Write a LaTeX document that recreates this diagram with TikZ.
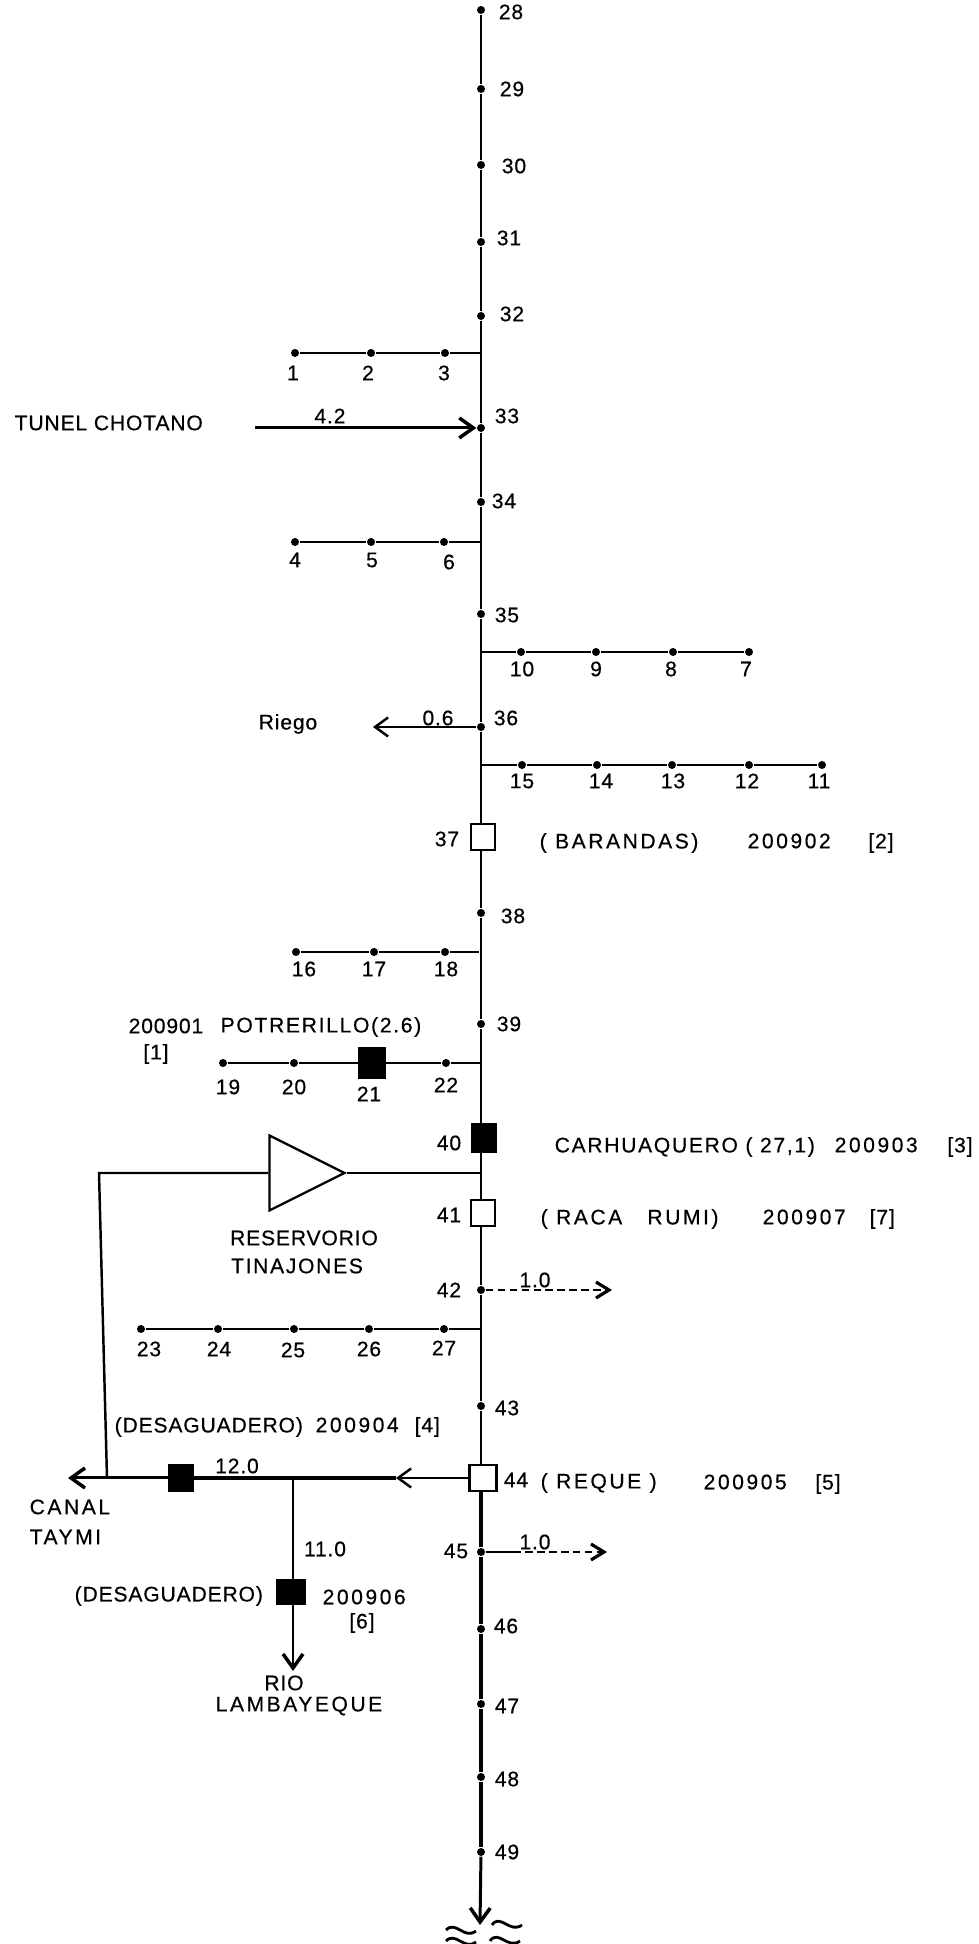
\documentclass[tikz,border=0pt]{standalone}
\usepackage{fontspec}
\setmainfont[LetterSpace=4,FakeBold=0.5]{Liberation Sans}
\usetikzlibrary{shapes.geometric, arrows.meta}

\begin{document}
\begin{tikzpicture}[
    station/.style={circle, fill=black, inner sep=0pt, minimum size=0.08cm},
    openbox/.style={rectangle, draw=black, fill=white, line width=0.8pt, inner sep=0pt, minimum width=0.24cm, minimum height=0.26cm},
    solidbox/.style={rectangle, draw=black, fill=black, inner sep=0pt, minimum width=0.25cm, minimum height=0.27cm},
    reservoir/.style={isosceles triangle, isosceles triangle apex angle=53, draw=black, line width=0.65pt, inner sep=0pt, minimum height=0.75cm, minimum width=0.75cm, isosceles triangle stretches},
    txt/.style={inner sep=0pt, font=\fontsize{6}{7}\selectfont},
    txtl/.style={txt, anchor=west},
    semi/.style={font=\fontsize{6}{7}\selectfont\addfontfeature{LetterSpace=8}},
    wide/.style={font=\fontsize{6}{7}\selectfont\addfontfeature{LetterSpace=12}},
    mainline/.style={line width=0.75pt},
    lowline/.style={line width=1pt},
    branch/.style={line width=0.7pt},
    arrow/.style={-{Straight Barb[length=1.4mm, width=2mm, line width=1pt]}, line width=0.85pt},
    thinarrow/.style={-{Straight Barb[length=1.3mm, width=1.9mm, line width=0.7pt]}, line width=0.7pt},
    dasharrow/.style={-{Straight Barb[length=1.3mm, width=1.6mm, line width=0.9pt]}, line width=0.7pt, dash pattern=on 2.2pt off 1.2pt},
    wave/.style={line width=0.8pt},
]
\useasboundingbox (0,0) rectangle (9.78,19.44);

% Stations on the main river
\node[station] (s28) at (4.81,19.34) {};
\node[station] (s29) at (4.81,18.55) {};
\node[station] (s30) at (4.81,17.79) {};
\node[station] (s31) at (4.81,17.02) {};
\node[station] (s32) at (4.81,16.28) {};
\node[station] (s33) at (4.81,15.16) {};
\node[station] (s34) at (4.81,14.42) {};
\node[station] (s35) at (4.81,13.30) {};
\node[station] (s36) at (4.81,12.17) {};
\node[station] (s38) at (4.81,10.31) {};
\node[station] (s39) at (4.81,9.20) {};
\node[station] (s42) at (4.81,6.54) {};
\node[station] (s43) at (4.81,5.38) {};
\node[station] (s45) at (4.81,3.92) {};
\node[station] (s46) at (4.81,3.15) {};
\node[station] (s47) at (4.81,2.40) {};
\node[station] (s48) at (4.81,1.67) {};
\node[station] (s49) at (4.81,0.92) {};
\coordinate (tip) at (4.80,0.19);

% Gauging boxes on the main river
\node[openbox] (box37) at (4.83,11.07) {};
\node[solidbox, minimum height=0.28cm] (box40) at (4.84,8.06) {};
\node[openbox] (box41) at (4.83,7.31) {};
\node[openbox, minimum width=0.27cm] (box44) at (4.83,4.66) {};

% Main river
\draw[mainline] (s28) -- (s29) -- (s30) -- (s31) -- (s32) -- (s33) -- (s34) -- (s35) -- (s36) -- (s36 |- box37.north);
\draw[mainline] (s36 |- box37.south) -- (s38) -- (s39) -- (s39 |- box40.north);
\draw[mainline] (s39 |- box40.south) -- (s39 |- box41.north);
\draw[mainline] (s39 |- box41.south) -- (s42) -- (s43) -- (s43 |- box44.north);
\draw[lowline] (s43 |- box44.south) -- (s45) -- (s46) -- (s47) -- (s48) -- (s49);
\draw[arrow] (s49) -- (tip);

% Numbers beside the main river
\node[txt] (t28) at (5.11,19.32) {28};
\node[txt] (t29) at (5.12,18.55) {29};
\node[txt] (t30) at (5.14,17.78) {30};
\node[txt] (t31) at (5.09,17.06) {31};
\node[txt] (t32) at (5.12,16.30) {32};
\node[txt] (t33) at (5.07,15.28) {33};
\node[txt] (t34) at (5.04,14.43) {34};
\node[txt] (t35) at (5.07,13.29) {35};
\node[txt] (t36) at (5.06,12.26) {36};
\node[txt] (t37) at (4.47,11.05) {37};
\node[txt] (t38) at (5.13,10.28) {38};
\node[txt] (t39) at (5.09,9.20) {39};
\node[txt] (t40) at (4.49,8.01) {40};
\node[txt] (t41) at (4.49,7.29) {41};
\node[txt] (t42) at (4.49,6.54) {42};
\node[txt] (t43) at (5.07,5.36) {43};
\node[txt] (t44) at (5.16,4.64) {44};
\node[txt] (t45) at (4.56,3.93) {45};
\node[txt] (t46) at (5.06,3.18) {46};
\node[txt] (t47) at (5.07,2.38) {47};
\node[txt] (t48) at (5.07,1.65) {48};
\node[txt] (t49) at (5.07,0.92) {49};

% Tributary 1-3
\node[station] (s1) at (2.95,15.91) {};
\node[station] (s2) at (3.71,15.91) {};
\node[station] (s3) at (4.45,15.91) {};
\coordinate (j3) at (4.81,15.91);
\draw[branch] (s1) -- (s2) -- (s3) -- (j3);
\node[txt] (t1) at (2.93,15.71) {1};
\node[txt] (t2) at (3.68,15.71) {2};
\node[txt] (t3) at (4.44,15.71) {3};

% Tributary 4-6
\node[station] (s4) at (2.95,14.02) {};
\node[station] (s5) at (3.71,14.02) {};
\node[station] (s6) at (4.44,14.02) {};
\coordinate (j6) at (4.81,14.02);
\draw[branch] (s4) -- (s5) -- (s6) -- (j6);
\node[txt] (t4) at (2.95,13.84) {4};
\node[txt] (t5) at (3.72,13.84) {5};
\node[txt] (t6) at (4.49,13.82) {6};

% Tributary 7-10
\node[station] (s10) at (5.21,12.92) {};
\node[station] (s9) at (5.96,12.92) {};
\node[station] (s8) at (6.73,12.92) {};
\node[station] (s7) at (7.49,12.92) {};
\coordinate (j10) at (4.81,12.92);
\draw[branch] (j10) -- (s10) -- (s9) -- (s8) -- (s7);
\node[txt] (t10) at (5.22,12.75) {10};
\node[txt] (t9) at (5.96,12.75) {9};
\node[txt] (t8) at (6.71,12.75) {8};
\node[txt] (t7) at (7.46,12.75) {7};

% Tributary 11-15
\node[station] (s15) at (5.22,11.79) {};
\node[station] (s14) at (5.97,11.79) {};
\node[station] (s13) at (6.72,11.79) {};
\node[station] (s12) at (7.49,11.79) {};
\node[station] (s11) at (8.22,11.79) {};
\coordinate (j15) at (4.81,11.79);
\draw[branch] (j15) -- (s15) -- (s14) -- (s13) -- (s12) -- (s11);
\node[txt] (t15) at (5.22,11.63) {15};
\node[txt] (t14) at (6.01,11.63) {14};
\node[txt] (t13) at (6.73,11.63) {13};
\node[txt] (t12) at (7.47,11.63) {12};
\node[txt] (t11) at (8.19,11.63) {11};

% Tributary 16-18
\node[station] (s16) at (2.96,9.92) {};
\node[station] (s17) at (3.74,9.92) {};
\node[station] (s18) at (4.45,9.92) {};
\coordinate (j18) at (4.79,9.92);
\draw[branch] (s16) -- (s17) -- (s18) -- (j18);
\node[txt] (t16) at (3.04,9.75) {16};
\node[txt] (t17) at (3.74,9.75) {17};
\node[txt] (t18) at (4.46,9.75) {18};

% Tributary 19-22 with Potrerillo
\node[station] (s19) at (2.23,8.81) {};
\node[station] (s20) at (2.94,8.81) {};
\node[solidbox, minimum width=0.27cm, minimum height=0.31cm] (box21) at (3.72,8.81) {};
\node[station] (s22) at (4.46,8.81) {};
\coordinate (j22) at (4.81,8.81);
\draw[branch] (s19) -- (s20) -- (box21) -- (s22) -- (j22);
\node[txt] (t19) at (2.28,8.57) {19};
\node[txt] (t20) at (2.94,8.57) {20};
\node[txt] (t21) at (3.69,8.50) {21};
\node[txt] (t22) at (4.46,8.59) {22};
\node[txtl] (code1) at (1.28,9.18) {200901};
\node[txtl, semi] (potrerillo) at (2.20,9.17) {POTRERILLO(2.6)};
\node[txt] (ref1) at (1.56,8.90) {[1]};

% Tributary 23-27
\node[station] (s23) at (1.41,6.15) {};
\node[station] (s24) at (2.18,6.15) {};
\node[station] (s25) at (2.94,6.15) {};
\node[station] (s26) at (3.69,6.15) {};
\node[station] (s27) at (4.44,6.15) {};
\coordinate (j27) at (4.81,6.15);
\draw[branch] (s23) -- (s24) -- (s25) -- (s26) -- (s27) -- (j27);
\node[txt] (t23) at (1.49,5.95) {23};
\node[txt] (t24) at (2.19,5.95) {24};
\node[txt] (t25) at (2.93,5.94) {25};
\node[txt] (t26) at (3.69,5.95) {26};
\node[txt] (t27) at (4.44,5.96) {27};

% Tunel Chotano
\node[txtl] (tunel) at (0.14,15.21) {TUNEL CHOTANO};
\coordinate (tunelstart) at (2.55,15.16);
\draw[arrow] (tunelstart) -- (s33);
\node[txt] (q33) at (3.30,15.28) {4.2};

% Riego
\node[txt] (riego) at (2.88,12.20) {Riego};
\coordinate (riegoend) at (3.73,12.17);
\draw[thinarrow] (s36) -- (riegoend);
\node[txt] (q36) at (4.38,12.26) {0.6};

% Barandas
\node[txtl, wide] (barandas) at (5.39,11.01) {( BARANDAS)};
\node[txtl, wide] (code2) at (7.47,11.03) {200902};
\node[txt] (ref2) at (8.81,11.01) {[2]};

% Carhuaquero and Raca Rumi
\node[txtl, semi] (carhua) at (5.54,7.97) {CARHUAQUERO ( 27,1)};
\node[txtl, wide] (code3) at (8.34,7.99) {200903};
\node[txt] (ref3) at (9.60,7.97) {[3]};
\node[txtl, wide] (raca) at (5.40,7.25) {( RACA\ \ \ RUMI)};
\node[txtl, wide] (code7) at (7.62,7.27) {200907};
\node[txtl] (ref7) at (8.69,7.25) {[7]};

% Reservorio Tinajones
\node[reservoir, anchor=apex] (tinajones) at (3.47,7.71) {};
\coordinate (jres) at (4.81,7.71);
\coordinate (resleft) at (0.99,7.71);
\coordinate (resdown) at (1.07,4.66);
\draw[branch] (jres) -- (tinajones.apex);
\draw[branch] (tinajones.lower side) -- (resleft) -- (resdown);
\node[txt] (reserv) at (3.04,7.06) {RESERVORIO};
\node[txt, semi] (tina) at (2.97,6.78) {TINAJONES};

% Derivations 1.0
\coordinate (end42) at (6.12,6.54);
\draw[dasharrow] (s42) -- (end42);
\node[txt] (q42) at (5.35,6.64) {1.0};
\coordinate (solid45) at (5.13,3.92);
\coordinate (end45) at (6.07,3.92);
\draw[branch] (s45) -- (solid45);
\draw[dasharrow] (solid45) -- (end45);
\node[txt] (q45) at (5.35,4.02) {1.0};

% Reque
\node[txtl, wide] (reque) at (5.40,4.61) {( REQUE )};
\node[txtl, wide] (code5) at (7.03,4.62) {200905};
\node[txt] (ref5) at (8.28,4.60) {[5]};

% Desaguadero to Canal Taymi
\coordinate (flow44) at (3.96,4.66);
\coordinate (jrio) at (2.93,4.66);
\node[solidbox] (box4) at (1.81,4.66) {};
\coordinate (taymi) at (0.68,4.66);
\draw[thinarrow] (box44) -- (flow44);
\draw[lowline] (flow44) -- (jrio) -- (box4);
\draw[arrow] (box4) -- (taymi);
\node[txt] (q12) at (2.37,4.78) {12.0};
\node[txtl] (desag4) at (1.14,5.17) {(DESAGUADERO)};
\node[txtl, wide] (code4) at (3.15,5.19) {200904};
\node[txtl] (ref4) at (4.14,5.17) {[4]};
\node[txtl, wide] (canal) at (0.29,4.37) {CANAL};
\node[txtl, wide] (tay) at (0.29,4.07) {TAYMI};

% Desaguadero to Rio Lambayeque
\node[solidbox, minimum width=0.28cm, minimum height=0.25cm] (box6) at (2.91,3.52) {};
\coordinate (rio) at (2.93,2.73);
\draw[branch] (jrio) -- (jrio |- box6.north);
\draw[arrow, line width=0.7pt] (jrio |- box6.south) -- (rio);
\node[txt] (q11) at (3.25,3.95) {11.0};
\node[txtl] (desag6) at (0.74,3.48) {(DESAGUADERO)};
\node[txtl, wide] (code6) at (3.22,3.47) {200906};
\node[txt] (ref6) at (3.62,3.21) {[6]};
\node[txt] (rionode) at (2.84,2.61) {RIO};
\node[txt, wide] (lamb) at (2.99,2.38) {LAMBAYEQUE};

% Sea
\draw[wave] (4.46,0.14) .. controls (4.56,0.24) and (4.64,0.04) .. (4.76,0.13);
\draw[wave] (4.46,0.03) .. controls (4.56,0.13) and (4.64,-0.07) .. (4.76,0.02);
\draw[wave] (4.92,0.19) .. controls (5.00,0.31) and (5.10,0.10) .. (5.22,0.19);
\draw[wave] (4.90,0.03) .. controls (4.98,0.15) and (5.08,-0.06) .. (5.20,0.03);

\end{tikzpicture}
\end{document}
